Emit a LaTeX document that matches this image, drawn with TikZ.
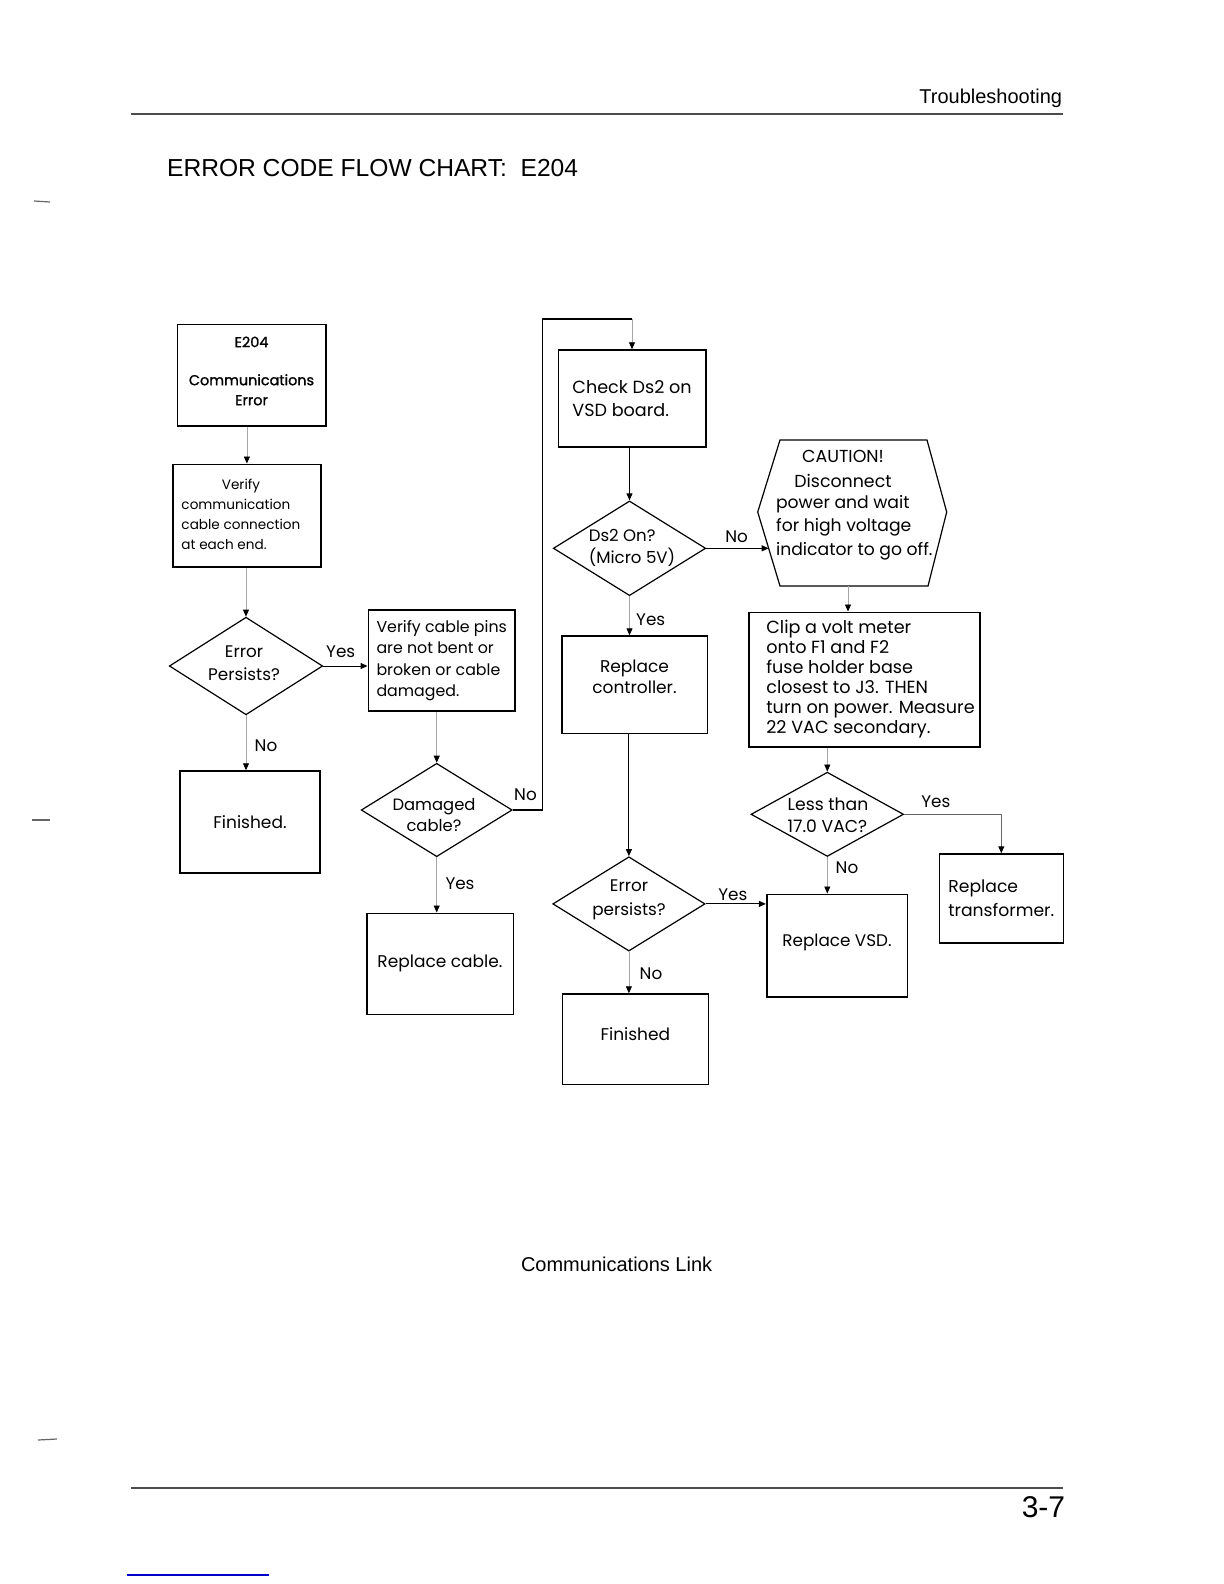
\documentclass[tikz,border=0pt]{standalone}
\usepackage{fontspec}
\setmainfont{Poppins}
\newfontfamily\popf{Poppins}
\newfontfamily\popb[FakeBold=1.3]{Poppins}
\newfontfamily\hvfam{Liberation Sans}
\usetikzlibrary{shapes.geometric,arrows.meta}
\newcommand\agf[2]{\popf\fontsize{#1}{#2}\selectfont}
\newcommand\agb[2]{\popb\fontsize{#1}{#2}\selectfont}
\newcommand\hvf[1]{\hvfam\fontsize{#1}{#1}\selectfont}
\begin{document}
\begin{tikzpicture}[x=0.5pt,y=-0.5pt,
  box/.style={draw, line width=0.8pt, inner sep=0pt, align=center},
  dia/.style={draw, diamond, line width=0.6pt, inner sep=0pt},
  txt/.style={inner sep=0pt},
  lbl/.style={inner sep=0pt, font=\agf{8.4}{10}},
  conn/.style={line width=0.5pt, -{Triangle[length=3.5pt,width=3pt]}},
  fconn/.style={line width=0.4pt, draw=black!35, -{Triangle[length=3.5pt,width=3pt,color=black]}},
  rule/.style={line width=0.6pt, draw=black!70}]
\useasboundingbox (0,0) rectangle (1224,1584);

% page furniture
\node[txt, anchor=east, font=\hvf{10}] (hdr) at (1062.5,98) {Troubleshooting};
\draw[rule] (131,114) -- (1062.5,114);
\node[txt, anchor=west, font=\hvf{12.3}] (title) at (166.7,167.7) {ERROR CODE FLOW CHART:\ \ E204};
\node[txt, font=\hvf{10}] (caption) at (616.6,1264.5) {Communications Link};
\draw[rule] (131,1488) -- (1062.5,1488);
\node[txt, anchor=east, font=\hvf{15}] (pg) at (1065.5,1507) {3-7};
\draw[blue!80!black, line width=0.6pt] (126.7,1575) -- (268.7,1575);
\draw[black!60, line width=0.6pt] (34,201) -- (50,202);
\draw[black!60, line width=0.6pt] (32,820) -- (50,820);
\draw[black!60, line width=0.6pt] (38,1440) -- (57,1439);

% left column
\node[box, minimum width=74.2pt, minimum height=50.9pt, font={\agb{7.2}{10}}] (e204) at (251.5,375.2)
  {\raisebox{1.5pt}[\height][\depth]{\begin{tabular}{@{}c@{}}E204\\[9pt]Communications\\Error\end{tabular}}};
\node[box, minimum width=74.15pt, minimum height=51.2pt, font=\agf{6.8}{10}] (verify) at (246.9,515.5)
  {\begin{tabular}{@{}l@{\hspace{6pt}}}\multicolumn{1}{@{}c@{\hspace{6pt}}}{Verify}\\communication\\cable connection\\at each end.\end{tabular}};
\node[dia, minimum width=76.7pt, minimum height=48.8pt] (err1) at (246,666) {};
\node[txt, align=center, font=\agf{8.4}{11.6}] (err1t) at (244,663.5) {Error\\Persists?};
\node[box, minimum width=70pt, minimum height=50.85pt, font=\agf{8.5}{11}] (fin1) at (250,821.9) {Finished.};

% middle-left column
\node[box, minimum width=73.35pt, minimum height=50.35pt, align=left, font=\agf{7.9}{10.7}] (pins) at (441.7,660.4)
  {Verify cable pins\\are not bent or\\broken or cable\\damaged.};
\node[dia, minimum width=75.5pt, minimum height=46.7pt] (dmg) at (436.7,810) {};
\node[txt, align=center, font=\agf{8.2}{10.7}] (dmgt) at (434,815) {Damaged\\cable?};
\node[box, minimum width=73.3pt, minimum height=50.5pt, font=\agf{8.5}{11}] (cable) at (440,963.8) {Replace cable.};

% middle column
\node[box, minimum width=73.7pt, minimum height=48.35pt, align=left, font=\agf{8.8}{11.65}] (check) at (632,398.4) {Check Ds2 on\\VSD board.};
\node[dia, minimum width=76.2pt, minimum height=47.35pt] (ds2) at (629.5,548.3) {};
\node[txt, align=left, font=\agf{8.3}{11.3}] (ds2t) at (632,548) {Ds2 On?\\(Micro 5V)};
\node[box, minimum width=72.8pt, minimum height=48.65pt, font=\agf{8.5}{10.5}] (ctrl) at (634.5,684.7)
  {\raisebox{2.75pt}[\height][\depth]{\begin{tabular}{@{}c@{}}Replace\\controller.\end{tabular}}};
\node[dia, minimum width=76.15pt, minimum height=47.15pt] (err2) at (628.9,903.9) {};
\node[txt, align=center, font=\agf{8.4}{11.85}] (err2t) at (629,899.5) {Error\\persists?};
\node[box, minimum width=73pt, minimum height=45.15pt, font=\agf{8.5}{11}] (fin2) at (635.3,1039.2)
  {\raisebox{2.5pt}[\height][\depth]{Finished}};

% caution hexagon
\coordinate (hxa) at (780,440);
\coordinate (hxb) at (927,440);
\coordinate (hxc) at (946.7,512);
\coordinate (hxd) at (928,586);
\coordinate (hxe) at (780,586);
\coordinate (hxf) at (757.7,512);
\draw[line width=0.6pt] (hxa) -- (hxb) -- (hxc) -- (hxd) -- (hxe) -- (hxf) -- cycle;
\node[txt, align=center, font=\agf{8.7}{12.5}] (hexa) at (843,469) {CAUTION!\\Disconnect};
\node[txt, anchor=west, align=left, font=\agf{8.6}{11.75}] (hexb) at (775.7,527.7) {power and wait\\for high voltage\\indicator to go off.};
\coordinate (hexin) at (768.6,548.3);
\coordinate (hexbot) at (848,586);

% right column
\node[box, minimum width=115.5pt, minimum height=67.2pt, font=\agf{8.8}{10}] (clip) at (864.5,679.5)
  {\begin{tabular}{@{\hspace{6pt}}l@{}}Clip a volt meter\\onto F1 and F2\\fuse holder base\\closest to J3. THEN\\turn on power. Measure\\22 VAC secondary.\end{tabular}};
\node[dia, minimum width=76.3pt, minimum height=42.15pt] (less) at (827.3,814.3) {};
\node[txt, align=left, font=\agf{8.6}{11}] (lesst) at (828,815) {Less than\\17.0 VAC?};
\node[box, minimum width=70.3pt, minimum height=51.2pt, font=\agf{8.4}{11}] (vsd) at (837,945.5)
  {\raisebox{1.5pt}[\height][\depth]{Replace VSD.}};
\node[box, minimum width=62pt, minimum height=44.35pt, align=left, font=\agf{8.6}{12}] (trans) at (1001.3,898.4) {Replace\\transformer.};

% connectors
\draw[fconn] (verify.north |- e204.south) -- (verify.north);
\draw[fconn] (verify.south -| err1.north) -- (err1.north);
\draw[conn] (err1.east) -- (err1.east -| pins.west);
\draw[fconn] (err1.south) -- (err1.south |- fin1.north);
\draw[fconn] (pins.south -| dmg.north) -- (dmg.north);
\draw[fconn] (dmg.south) -- (dmg.south |- cable.north);
\coordinate (loopA) at (542.7,810);
\coordinate (loopB) at (542.7,319);
\coordinate (loopC) at (check.north |- loopB);
\draw[line width=0.6pt] (dmg.east) -- (loopA) -- (loopB) -- (loopC);
\draw[fconn] (loopC) -- (check.north);
\draw[conn] (check.south -| ds2.north) -- (ds2.north);
\draw[conn] (ds2.east) -- (hexin);
\draw[fconn] (ds2.south) -- (ds2.south |- ctrl.north);
\draw[fconn] (hexbot) -- (hexbot |- clip.north);
\draw[conn] (ctrl.south -| err2.north) -- (err2.north);
\draw[conn] (err2.east) -- (err2.east -| vsd.west);
\draw[fconn] (err2.south) -- (err2.south |- fin2.north);
\draw[fconn] (clip.south -| less.north) -- (less.north);
\draw[conn, draw=black!60, -{Triangle[length=3.5pt,width=3pt,color=black]}] (less.east) -| (trans.north);
\draw[fconn] (less.south) -- (less.south |- vsd.north);

% connector labels
\node[lbl] (l1) at (340.7,651.7) {Yes};
\node[lbl] (l2) at (266,746) {No};
\node[lbl] (l3) at (525.5,795) {No};
\node[lbl] (l4) at (460,883.3) {Yes};
\node[lbl] (l5) at (736.7,536.7) {No};
\node[lbl] (l6) at (650.7,619.3) {Yes};
\node[lbl] (l7) at (732.8,895) {Yes};
\node[lbl] (l8) at (651,973.3) {No};
\node[lbl] (l9) at (935.8,801.7) {Yes};
\node[lbl] (l10) at (847,867.3) {No};
\end{tikzpicture}
\end{document}
